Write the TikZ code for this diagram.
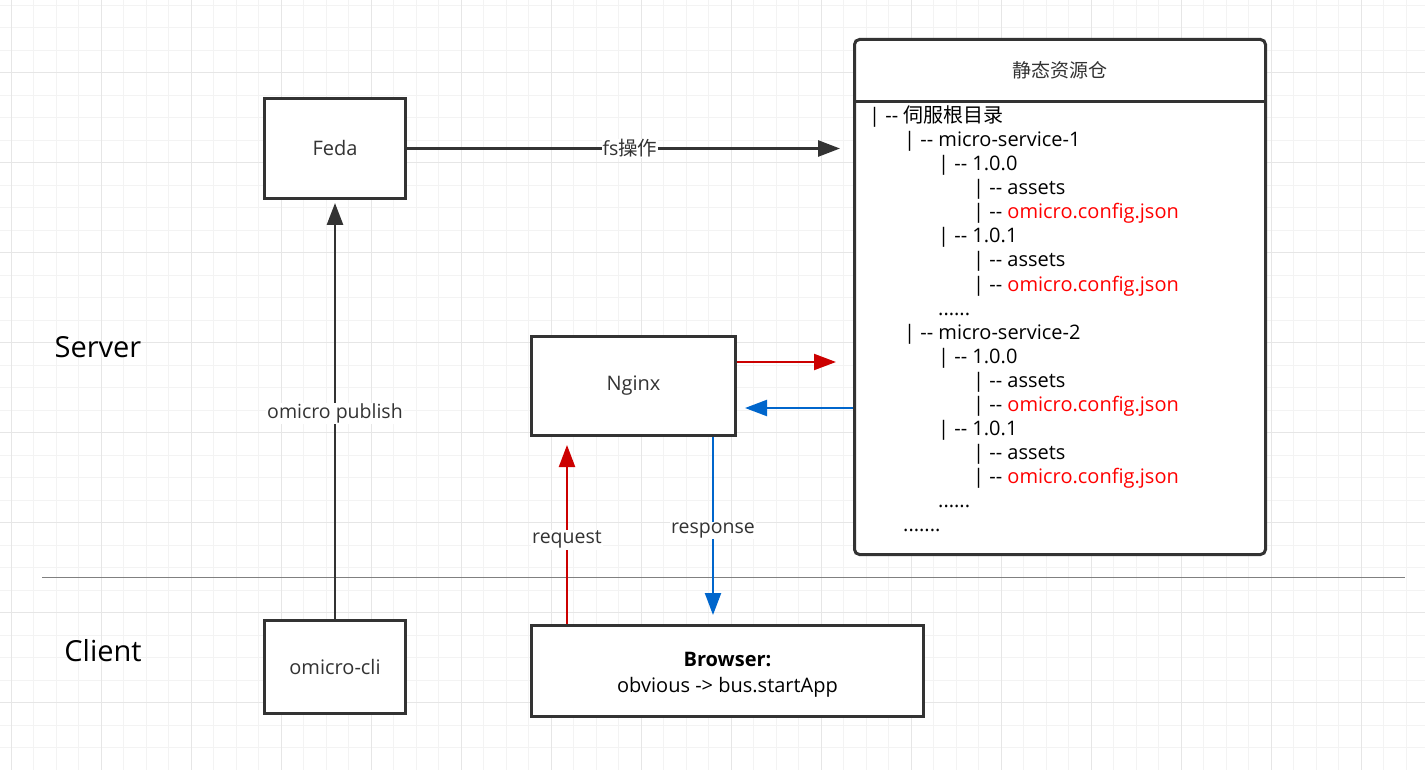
\documentclass[tikz,border=0pt]{standalone}
\usepackage{fontspec}
\setmainfont{Open Sans}[Ligatures=TeXOff]
\newfontfamily\cjk{Noto Sans CJK SC}
\usetikzlibrary{arrows.meta,positioning}
\definecolor{boxgray}{HTML}{333333}
\definecolor{gridminor}{HTML}{F3F3F3}
\definecolor{gridmajor}{HTML}{E6E6E6}
\definecolor{reqred}{HTML}{CC0000}
\definecolor{resblue}{HTML}{0066CC}
\definecolor{cfgred}{HTML}{FF0000}
\begin{document}
\begin{tikzpicture}[x=1pt,y=-1pt,
      box/.style={draw=boxgray,line width=3pt,fill=white,text=boxgray,
        inner sep=0pt,font=\fontsize{20}{26}\selectfont},
      tree/.style={anchor=base west,inner sep=0pt,font=\fontsize{20}{24}\selectfont},
      side/.style={font=\fontsize{29}{34}\selectfont},
      lbl/.style={fill=white,inner sep=1pt,text=boxgray,font=\fontsize{19.5}{22}\selectfont},
      darkarrow/.style={draw=boxgray,line width=2.8pt,-{Triangle[length=22pt,width=16pt]}},
      reqarrow/.style={draw=reqred,line width=2.2pt,-{Triangle[length=22pt,width=16pt]}},
      resarrow/.style={draw=resblue,line width=2.2pt,-{Triangle[length=22pt,width=16pt]}}]
      \useasboundingbox (0,0) rectangle (1425,770);
      % grid
      \foreach \i in {0,...,63}
        \draw[gridminor,line width=1pt] (11+22.5*\i,0) -- (11+22.5*\i,770);
      \foreach \j in {0,...,34}
        \draw[gridminor,line width=1pt] (0,5.2+22.5*\j) -- (1425,5.2+22.5*\j);
      \foreach \i in {0,...,15}
        \draw[gridmajor,line width=1pt] (11+90*\i,0) -- (11+90*\i,770);
      \foreach \j in {0,...,7}
        \draw[gridmajor,line width=1pt] (0,72.7+90*\j) -- (1425,72.7+90*\j);
      % server / client
      \coordinate (divl) at (42,577);
      \coordinate (divr) at (1405,577);
      \draw[gray,line width=1pt] (divl) -- (divr);
      \path (98,347) node[side] (server) {Server};
      \path (103,651) node[side] (client) {Client};
      % boxes
      \path (335,148.5) node[box,minimum width=141pt,minimum height=100pt] (feda) {Feda};
      \path (335,667) node[box,minimum width=141pt,minimum height=93pt] (cli) {omicro-cli};
      \path (633.5,386) node[box,minimum width=204pt,minimum height=99pt] (nginx) {Nginx};
      \path (727.5,671) node[box,minimum width=392pt,minimum height=91pt,align=center,
        text=black,text height=47pt] (browser) {\textbf{Browser:}\\obvious -> bus.startApp};
      \path (1060,297) node[box,rounded corners=5pt,minimum width=411pt,
        minimum height=515pt] (repo) {};
      \draw[boxgray,line width=3pt] ([yshift=-64pt]repo.north west)
        -- ([yshift=-64pt]repo.north east);
      \path (1060,70) node[text=boxgray,font=\fontsize{19}{22}\selectfont\cjk] (repohead) {静态资源仓};
      % tree
      \path (869,123) node[tree] (t1) {| -- {\cjk 伺服根目录}};
      \path (904,147) node[tree] (t2) {| -- micro-service-1};
      \path (938,171) node[tree] (t3) {| -- 1.0.0};
      \path (973,195) node[tree] (t4) {| -- assets};
      \path (973,219) node[tree] (t5) {| -- \textcolor{cfgred}{omicro.config.json}};
      \path (938,243) node[tree] (t6) {| -- 1.0.1};
      \path (973,267) node[tree] (t7) {| -- assets};
      \path (973,291) node[tree] (t8) {| -- \textcolor{cfgred}{omicro.config.json}};
      \path (938,315) node[tree] (t9) {......};
      \path (904,339) node[tree] (t10) {| -- micro-service-2};
      \path (938,363) node[tree] (t11) {| -- 1.0.0};
      \path (973,387) node[tree] (t12) {| -- assets};
      \path (973,411) node[tree] (t13) {| -- \textcolor{cfgred}{omicro.config.json}};
      \path (938,435) node[tree] (t14) {| -- 1.0.1};
      \path (973,459) node[tree] (t15) {| -- assets};
      \path (973,483) node[tree] (t16) {| -- \textcolor{cfgred}{omicro.config.json}};
      \path (938,507) node[tree] (t17) {......};
      \path (903,531) node[tree] (t18) {.......};
      % connectors
      \coordinate (toRepo) at (0,362);
      \coordinate (fromRepo) at (0,408);
      \coordinate (reqx) at (567,0);
      \coordinate (resx) at (713,0);
      \draw[darkarrow,shorten >=13pt] (feda.east) -- (feda.east -| repo.west)
        node[lbl,midway] (fslbl) {fs{\cjk 操作}};
      \draw[darkarrow,shorten >=3pt] (cli.north) -- (feda.south)
        node[lbl,pos=0.49] (publbl) {omicro publish};
      \draw[reqarrow,shorten >=17pt] (nginx.east |- toRepo) -- (repo.west |- toRepo);
      \draw[resarrow,shorten >=8pt] (repo.west |- fromRepo) -- (nginx.east |- fromRepo);
      \draw[reqarrow,shorten >=8pt] (browser.north -| reqx) -- (nginx.south -| reqx)
        node[lbl,pos=0.45] (reqlbl) {request};
      \draw[resarrow,shorten >=9pt] (nginx.south -| resx) -- (browser.north -| resx)
        node[lbl,midway] (reslbl) {response};
     \end{tikzpicture}
\end{document}
